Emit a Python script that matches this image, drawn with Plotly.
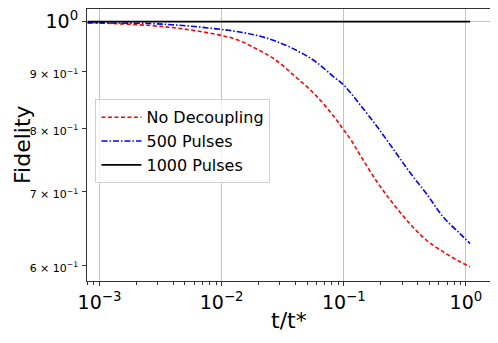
import plotly.graph_objects as go

# values
t = [8e-4, 1e-3, 2.57e-3, 4.82e-3, 9.06e-3, 1.32e-2, 1.92e-2, 2.72e-2, 3.96e-2,
     5.78e-2, 8.43e-2, 9.86e-2, 0.1156, 0.135, 0.185, 0.254, 0.347, 0.476,
     0.652, 0.893, 1.08]
no_decoupling = [0.9971, 0.9968, 0.9917, 0.9847, 0.9733, 0.9632, 0.9445, 0.9239,
                 0.8921, 0.8587, 0.8177, 0.7984, 0.7789, 0.7570, 0.7160, 0.6826,
                 0.6548, 0.6324, 0.6172, 0.6045, 0.5983]
pulses_500 = [0.9975, 0.9972, 0.9958, 0.9917, 0.9847, 0.9795, 0.9715, 0.9605,
              0.9433, 0.9206, 0.8890, 0.8768, 0.8594, 0.8410, 0.8039, 0.7656,
              0.7292, 0.6970, 0.6639, 0.6413, 0.6281]
pulses_1000 = [1.0] * len(t)

x_ticks = [1e-3, 1e-2, 1e-1, 1]
x_labels = ["10<sup>−3</sup>", "10<sup>−2</sup>", "10<sup>−1</sup>", "10<sup>0</sup>"]
y_ticks = [0.6, 0.7, 0.8, 0.9, 1.0]
y_labels = ['<span style="font-size:11px">6 × 10<sup>−1</sup></span>',
            '<span style="font-size:11px">7 × 10<sup>−1</sup></span>',
            '<span style="font-size:11px">8 × 10<sup>−1</sup></span>',
            '<span style="font-size:11px">9 × 10<sup>−1</sup></span>',
            "10<sup>0</sup>"]
x_minor = [k * 10.0 ** e for e in range(-4, 1) for k in range(2, 10)]

fig = go.Figure()
fig.add_trace(go.Scatter(x=t, y=no_decoupling, mode="lines", name="No Decoupling",
                         line=dict(color="red", width=1.6, dash="4px,2.5px", shape="spline")))
fig.add_trace(go.Scatter(x=t, y=pulses_500, mode="lines", name="500 Pulses",
                         line=dict(color="blue", width=1.6, dash="6px,2px,1.5px,2px", shape="spline")))
fig.add_trace(go.Scatter(x=t, y=pulses_1000, mode="lines", name="1000 Pulses",
                         line=dict(color="black", width=1.8)))

# the page body keeps its default 8px margin, so the figure is sized to fit the window
fig.update_layout(
    width=490, height=335,
    margin=dict(l=79, r=8, t=1, b=62),
    paper_bgcolor="white", plot_bgcolor="white",
    font=dict(family="DejaVu Sans", color="black"),
    showlegend=True,
    legend=dict(x=0.021, y=0.668, xanchor="left", yanchor="top",
                font=dict(size=16), bgcolor="rgba(255,255,255,0.8)",
                bordercolor="#d0d0d0", borderwidth=1, itemwidth=40),
)
fig.update_xaxes(type="log", range=[-3.102, 0.197], automargin=False,
                 tickvals=x_ticks, ticktext=x_labels, tickfont=dict(size=19),
                 ticks="outside", ticklen=4, tickcolor="#333",
                 showline=True, linecolor="#333", linewidth=1, mirror=True,
                 showgrid=True, gridcolor="#c4c4c4", gridwidth=1, zeroline=False,
                 minor=dict(tickvals=x_minor, ticks="outside", ticklen=2.5, tickcolor="#333", showgrid=False))
fig.update_yaxes(type="log", range=[-0.2361, 0.0114], automargin=False,
                 tickvals=y_ticks, ticktext=y_labels, tickfont=dict(size=19),
                 ticks="outside", ticklen=4, tickcolor="#333",
                 showline=True, linecolor="#333", linewidth=1, mirror=True,
                 showgrid=False, zeroline=False)
# axis titles placed as annotations
fig.add_annotation(text="t/t*", xref="paper", yref="paper", x=0.5, y=0,
                   yanchor="middle", yshift=-39, showarrow=False, font=dict(size=22))
fig.add_annotation(text="Fidelity", xref="paper", yref="paper", x=0, y=0.5,
                   xanchor="center", xshift=-65, textangle=-90, showarrow=False,
                   borderpad=0, font=dict(size=22))
# horizontal grid only at the major tick 10^0
fig.add_hline(y=1.0, line=dict(color="#c4c4c4", width=1), layer="below")

fig.write_html("out.html")
